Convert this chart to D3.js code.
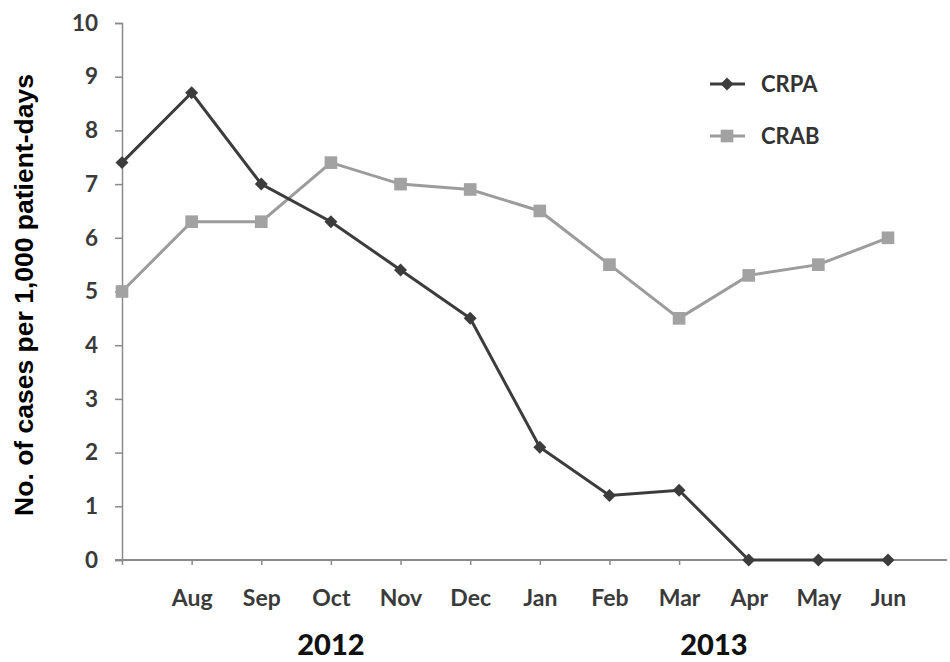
<!DOCTYPE html>
<html><head><meta charset="utf-8">
<script src="https://cdn.jsdelivr.net/npm/d3@7"></script>
<style>body{margin:0;background:#fff}</style>
</head><body>
<svg id="c" width="950" height="662"></svg>
<script>
const categories = ["Jul","Aug","Sep","Oct","Nov","Dec","Jan","Feb","Mar","Apr","May","Jun"];
const tickLabels = ["","Aug","Sep","Oct","Nov","Dec","Jan","Feb","Mar","Apr","May","Jun"];
const crpa = [7.4,8.7,7.0,6.3,5.4,4.5,2.1,1.2,1.3,0,0,0];
const crab = [5.0,6.3,6.3,7.4,7.0,6.9,6.5,5.5,4.5,5.3,5.5,6.0];
const yTicks = [0,1,2,3,4,5,6,7,8,9,10];
const years = [{label:"2012", from:"Oct", to:"Oct"},{label:"2013", from:"Mar", to:"Apr"}];
const seriesNames = ["CRPA","CRAB"];

const svg = d3.select("#c");
const x = d3.scalePoint().domain(categories).range([122, 888]);
const y = d3.scaleLinear().domain([0,10]).range([560, 23]);
const axisCol = "#8a8a8a";
const font = "Lato, 'Open Sans', sans-serif";

// y axis
const ya = svg.append("g").attr("transform","translate(122,0)")
  .call(d3.axisLeft(y).tickValues(yTicks).tickSize(7).tickPadding(17).tickFormat(d3.format("d")));
ya.select(".domain").attr("stroke",axisCol).attr("stroke-width",1.5);
ya.selectAll(".tick line").attr("stroke",axisCol).attr("stroke-width",1.5);
ya.selectAll("text").attr("font-family",font).attr("font-weight",700).attr("font-size",22.5).attr("fill","#3a3a3a");

// x axis
const xa = svg.append("g").attr("transform","translate(0,560)")
  .call(d3.axisBottom(x).tickSize(5).tickPadding(25).tickFormat((d,i)=>tickLabels[i]));
xa.select(".domain").attr("d","M115,0H947").attr("stroke",axisCol).attr("stroke-width",2);
xa.selectAll(".tick line").attr("stroke",axisCol).attr("stroke-width",1.5);
xa.selectAll("text").attr("font-family",font).attr("font-weight",700).attr("font-size",23).attr("fill","#3a3a3a");

// year labels
svg.selectAll("text.year").data(years).enter().append("text").attr("class","year")
  .attr("x",d=>(x(d.from)+x(d.to))/2).attr("y",655).attr("text-anchor","middle")
  .attr("font-family",font).attr("font-weight",900).attr("font-size",29).attr("fill","#111")
  .text(d=>d.label);

// y label
svg.append("text").attr("transform","translate(33,295) rotate(-90)").attr("text-anchor","middle")
  .attr("font-family","'Liberation Sans', Arial, sans-serif").attr("font-weight",700).attr("font-size",26.5).attr("fill","#000")
  .text("No. of cases per 1,000 patient-days");

const line = d3.line().x((d,i)=>x(categories[i])).y(d=>y(d));
const cols = ["#3c3c3c","#9c9c9c"];
const data = [crpa, crab];

[1,0].forEach(s=>{
  svg.append("path").attr("d",line(data[s])).attr("fill","none").attr("stroke",cols[s]).attr("stroke-width",3);
});
const sqDiamond = {draw(ctx, size){ const r = Math.sqrt(size/2); ctx.moveTo(0,-r); ctx.lineTo(r,0); ctx.lineTo(0,r); ctx.lineTo(-r,0); ctx.closePath(); }};
const diamond = d3.symbol().type(sqDiamond).size(84);
const square = d3.symbol().type(d3.symbolSquare).size(160);
svg.selectAll("path.crab").data(crab).enter().append("path").attr("class","crab")
  .attr("d",square).attr("transform",(d,i)=>`translate(${x(categories[i])},${y(d)})`).attr("fill","#a2a2a2");
svg.selectAll("path.crpa").data(crpa).enter().append("path").attr("class","crpa")
  .attr("d",diamond).attr("transform",(d,i)=>`translate(${x(categories[i])},${y(d)})`).attr("fill","#3c3c3c");

// legend
const lg = svg.append("g");
[0,1].forEach(s=>{
  const ly = 84 + s*52;
  lg.append("line").attr("x1",710).attr("x2",745).attr("y1",ly).attr("y2",ly).attr("stroke",cols[s]).attr("stroke-width",3);
  lg.append("path").attr("d", s===0?diamond:square).attr("transform",`translate(727,${ly})`).attr("fill", s===0?"#3c3c3c":"#a2a2a2");
  lg.append("text").attr("x",761).attr("y",ly).attr("dy","0.36em")
    .attr("font-family",font).attr("font-weight",700).attr("font-size",22).attr("fill","#333").text(seriesNames[s]);
});
</script>
</body></html>
